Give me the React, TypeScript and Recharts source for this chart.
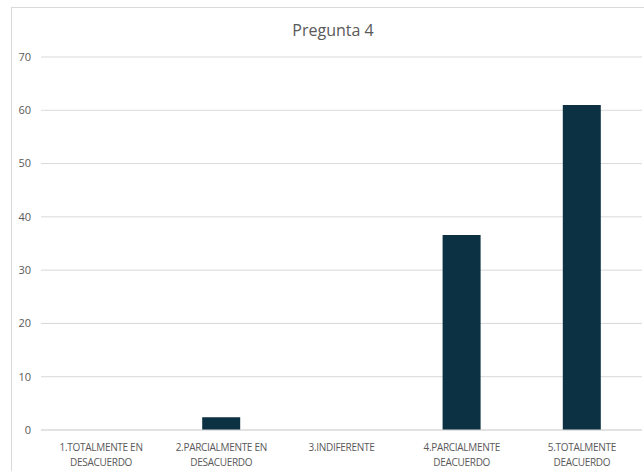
import React from 'react';
import { BarChart, Bar, XAxis, YAxis, CartesianGrid } from 'recharts';

// Pregunta 4: respuestas por opción
const categorias = [
  '1.TOTALMENTE EN|DESACUERDO',
  '2.PARCIALMENTE EN|DESACUERDO',
  '3.INDIFERENTE',
  '4.PARCIALMENTE|DEACUERDO',
  '5.TOTALMENTE|DEACUERDO',
];
const valores = [0, 2.4, 0, 36.6, 61];
const yTicks = [0, 10, 20, 30, 40, 50, 60, 70];

const data = categorias.map((name, i) => ({ name, valor: valores[i] }));

const FONT = '"Open Sans", "Noto Sans", sans-serif';

const CategoryTick = (props: any) => {
  const { x, y, payload } = props;
  const lines = String(payload.value).split('|');
  return (
    <g transform={`translate(${x},${y})`}>
      {lines.map((line, i) => (
        <text
          key={i}
          x={0}
          y={0}
          dy={13 + i * 15}
          textAnchor="middle"
          fill="#595959"
          fontSize={10}
          fontFamily={FONT}
          style={{ letterSpacing: '-0.3px' }}
        >
          {line}
        </text>
      ))}
    </g>
  );
};

export default function App() {
  return (
    <div style={{ position: 'absolute', left: 0, top: 0, width: 644, height: 471, background: '#fff', overflow: 'hidden' }}>
      <div
        style={{
          position: 'absolute',
          left: 11,
          top: 7,
          width: 700,
          height: 500,
          borderLeft: '1px solid #d9d9d9',
          borderTop: '1px solid #d9d9d9',
        }}
      />
      <div
        style={{
          position: 'absolute',
          left: 0,
          top: 19,
          width: 666,
          textAlign: 'center',
          fontFamily: FONT,
          fontSize: 16,
          color: '#595959',
        }}
      >
        Pregunta 4
      </div>
      <div style={{ position: 'absolute', left: 0, top: 0 }}>
        <BarChart
          width={644}
          height={471}
          data={data}
          margin={{ top: 57, right: 2, left: 11, bottom: 0 }}
          barSize={38}
        >
          <CartesianGrid vertical={false} stroke="#d9d9d9" />
          <XAxis
            dataKey="name"
            axisLine={{ stroke: '#d9d9d9' }}
            tickLine={false}
            tick={<CategoryTick />}
            interval={0}
            height={41}
          />
          <YAxis
            width={30}
            domain={[0, 70]}
            ticks={yTicks}
            axisLine={false}
            tickLine={false}
            tickSize={0}
            tickMargin={10}
            tick={{ fill: '#595959', fontSize: 11, fontFamily: FONT }}
          />
          <Bar dataKey="valor" fill="#0B3142" isAnimationActive={false} />
        </BarChart>
      </div>
    </div>
  );
}
